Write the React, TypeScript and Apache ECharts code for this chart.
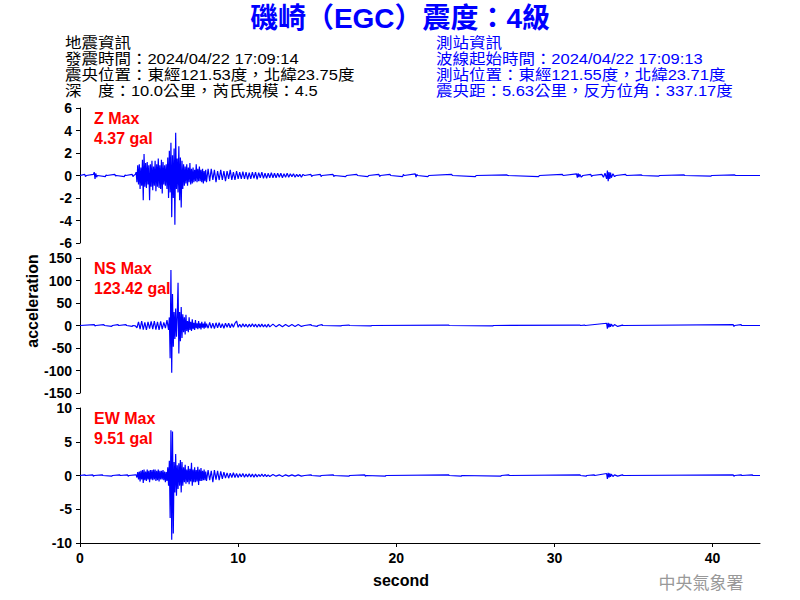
import { useEffect, useRef } from "react";
import * as echarts from "echarts";

// ---- data ----
const TITLE = "磯崎（EGC）震度：4級";
const QUAKE_INFO = [
  "地震資訊",
  "發震時間：2024/04/22 17:09:14",
  "震央位置：東經121.53度，北緯23.75度",
  "深　度：10.0公里，芮氏規模：4.5",
];
const STATION_INFO = [
  "測站資訊",
  "波線起始時間：2024/04/22 17:09:13",
  "測站位置：東經121.55度，北緯23.71度",
  "震央距：5.63公里，反方位角：337.17度",
];
const COMPONENTS = ["Z", "NS", "EW"];
const MAX_LABELS = ["4.37 gal", "123.42 gal", "9.51 gal"];
const Y_MIN = [-6, -150, -10];
const Y_MAX = [6, 150, 10];
const Y_STEP = [2, 50, 5];
const X_MAX = 43;
const X_TICKS = [0, 10, 20, 30, 40];

// [second, gal]
const zWave: [number, number][] = [
  [0, 0], [0.3, 0.1], [0.35, -0.1], [0.4, 0], [0.85, 0.1], [0.9, 0.3], [0.95, -0.3], [1.0, 0.2], [1.05, -0.15],
  [1.1, 0], [1.6, -0.1], [1.65, 0.05], [1.7, 0], [2.2, 0.1], [2.25, -0.05], [2.3, 0], [2.8, -0.1], [2.85, 0.05],
  [2.9, 0], [3.3, 0.1], [3.35, -0.1], [3.4, 0], [3.5, 0.1],
  [3.55, 0.3], [3.6, -0.6], [3.65, 0.9], [3.7, -0.8], [3.75, 1.0], [3.8, -1.2], [3.85, 0.7], [3.9, -0.9],
  [3.95, 1.4], [4.0, -2.2], [4.05, 1.9], [4.1, -1.0], [4.15, 1.1], [4.2, -1.1], [4.25, 1.2], [4.3, -0.8],
  [4.35, 0.9], [4.4, -2.2], [4.45, 1.0], [4.5, -1.0], [4.55, 1.3], [4.6, -1.3], [4.65, 0.8], [4.7, -0.9],
  [4.75, 1.3], [4.8, -1.4], [4.85, 1.0], [4.9, -1.0], [4.95, 1.5], [5.0, -1.1], [5.05, 0.9], [5.1, -1.2],
  [5.15, 1.4], [5.2, -1.6], [5.25, 1.2], [5.3, -0.8], [5.35, 0.9], [5.4, -0.9], [5.45, 1.0], [5.5, -1.2],
  [5.55, 1.6], [5.6, -2.0], [5.65, 2.2], [5.7, -1.5], [5.75, 2.9], [5.8, -3.7], [5.85, 1.8], [5.9, -2.0],
  [5.95, 2.4], [6.0, -4.37], [6.05, 3.8], [6.1, -1.2], [6.15, 1.5], [6.2, -1.5], [6.25, 2.6], [6.3, -2.2],
  [6.35, 1.6], [6.4, -2.85], [6.45, 1.3], [6.5, -1.2], [6.55, 1.0], [6.6, -0.9], [6.65, 0.8], [6.7, -0.7],
  [6.75, 1.0], [6.8, -0.9], [6.85, 0.7], [6.9, -0.6], [6.95, 1.1], [7.0, -0.8], [7.05, 0.6], [7.1, -0.7],
  [7.15, 0.7], [7.2, -0.6], [7.25, 0.5], [7.3, -0.5], [7.35, 1.0], [7.4, -0.6], [7.45, 0.6], [7.5, -0.5],
  [7.55, 0.8], [7.6, -0.5], [7.65, 0.5], [7.7, -0.6], [7.75, 0.6], [7.8, -0.7], [7.85, 0.4], [7.9, -0.5],
  [7.95, 0.5], [8.0, -0.6],
  [8.1, 0.6], [8.2, -0.5], [8.3, 0.6], [8.4, -0.4], [8.5, 0.5], [8.6, -0.6], [8.7, 0.4], [8.8, -0.4], [8.9, 0.5],
  [9.0, -0.4], [9.1, 0.4], [9.2, -0.5], [9.3, 0.4], [9.4, -0.3], [9.5, 0.5], [9.6, -0.4], [9.7, 0.3], [9.8, -0.4],
  [9.9, 0.4], [10.0, -0.3], [10.1, 0.3], [10.2, -0.3], [10.3, 0.35], [10.4, -0.3], [10.5, 0.3], [10.6, -0.35],
  [10.7, 0.25], [10.8, -0.3], [10.9, 0.3], [11.0, -0.25], [11.1, 0.3], [11.2, -0.35], [11.3, 0.25],
  [11.4, -0.2], [11.5, 0.3], [11.6, -0.25], [11.7, 0.2], [11.8, -0.25], [11.9, 0.2],
  [12.0, -0.2], [12.1, 0.25], [12.2, -0.2], [12.3, 0.2], [12.4, -0.2], [12.5, 0.2], [12.6, -0.15], [12.7, 0.2],
  [12.8, -0.2], [12.9, 0.15], [13.0, -0.15], [13.1, 0.2], [13.2, -0.15], [13.3, 0.15], [13.4, -0.1],
  [13.5, 0.15], [13.6, -0.15], [13.7, 0.1], [13.8, -0.1], [13.9, 0.1], [14.0, -0.15], [14.1, 0.1], [14.2, 0],
  [14.6, 0.1], [14.65, -0.1], [14.7, 0], [15.2, 0.1], [15.25, -0.1], [15.3, 0], [16.0, 0.1], [16.05, -0.1],
  [16.1, 0], [16.8, -0.1], [16.85, 0], [17.5, 0.1], [17.55, 0], [18.2, -0.1], [18.25, 0], [18.9, 0.1],
  [18.95, -0.1], [19.0, 0], [19.6, 0.1], [19.65, 0], [20.4, -0.1], [20.45, 0.1], [20.5, 0], [21.2, 0.15],
  [21.25, -0.15], [21.3, 0.1], [21.35, 0], [22.0, -0.1], [22.05, 0], [23.5, 0.1], [23.55, 0], [25.0, -0.1],
  [25.05, 0], [27.0, 0.05], [27.05, 0], [29.0, -0.1], [29.05, 0], [30.5, 0.1], [30.55, 0], [31.4, 0.15],
  [31.45, -0.2], [31.5, 0.2], [31.55, -0.15], [31.6, 0.1], [31.7, -0.15], [31.8, 0], [32.3, 0.1], [32.35, -0.1],
  [32.4, 0], [33.0, 0.1], [33.1, -0.15], [33.2, 0.2], [33.3, -0.3], [33.35, 0.45], [33.4, -0.5], [33.45, 0.3],
  [33.5, -0.3], [33.55, 0.25], [33.6, -0.2], [33.7, 0.15], [33.8, -0.1], [33.9, 0], [34.5, 0.1], [34.55, 0],
  [35.5, 0.05], [35.55, 0], [36.6, -0.05], [36.65, 0], [38.2, 0.05], [38.25, 0], [39.9, -0.05], [39.95, 0],
  [41.4, 0.05], [41.45, 0], [43, 0],
];

const nsWave: [number, number][] = [
  [0, 0], [0.9, 2], [0.95, -1], [1.0, 0], [1.5, 2], [1.55, 0], [2.0, -2], [2.05, 0], [2.4, 2], [2.45, 0],
  [2.9, 2], [2.95, 0], [3.3, -2], [3.35, 0], [3.5, -1],
  [3.6, -5], [3.7, 8], [3.8, -8], [3.9, 10], [4.0, -9], [4.1, 7], [4.2, -10], [4.3, 8], [4.4, -7], [4.5, 9],
  [4.6, -8], [4.7, 10], [4.8, -9], [4.9, 8], [5.0, -10], [5.1, 9], [5.2, -8], [5.3, 7], [5.4, -6], [5.5, 12],
  [5.6, -10], [5.65, 18], [5.7, -73], [5.75, 123.42], [5.8, -105], [5.85, 70], [5.9, -47], [5.95, 30], [6.0, -30],
  [6.05, 38], [6.1, -25], [6.15, 20], [6.2, 95], [6.25, -62], [6.3, 30], [6.35, -35], [6.4, 41], [6.45, -28],
  [6.5, 25], [6.55, -15], [6.6, 18], [6.65, -20], [6.7, 24], [6.75, -12], [6.8, 10], [6.85, -15], [6.9, 18],
  [6.95, -10], [7.0, 8], [7.05, -12], [7.1, 14], [7.15, -8], [7.2, 6], [7.25, -10], [7.3, 12], [7.35, -6],
  [7.4, 5], [7.45, -8], [7.5, 10], [7.55, -6], [7.6, 5], [7.65, -9], [7.7, 8], [7.75, -5], [7.8, 4],
  [7.85, -7], [7.9, 9], [7.95, -5], [8.0, 4],
  [8.1, -6], [8.2, 7], [8.3, -6], [8.4, 5], [8.5, -7], [8.6, 6], [8.7, -5], [8.8, 6], [8.9, -5], [9.0, 4],
  [9.1, -6], [9.2, 5], [9.3, -4], [9.4, 5], [9.5, -5], [9.6, 4], [9.7, -4], [9.8, 5], [9.9, 10], [10.0, -4],
  [10.1, 3], [10.2, -4], [10.3, 4], [10.4, -3], [10.5, 3], [10.6, -4], [10.7, 3], [10.8, -3], [10.9, 4],
  [11.0, -3], [11.1, 3], [11.2, -4], [11.3, 3], [11.4, -3], [11.5, 3], [11.6, -3], [11.7, 2], [11.8, -4],
  [11.9, 3], [12.0, -3], [12.2, 3], [12.4, -3], [12.6, 2], [12.8, -3], [13.0, 2], [13.2, -2], [13.4, 2],
  [13.6, -2], [13.8, 2], [14.0, -2], [14.2, 0], [14.6, 2], [14.65, 0], [15.0, -2], [15.05, 0], [15.3, 2],
  [15.35, 0], [16.5, -1], [16.55, 0], [17.0, 1], [17.05, 0], [18.4, -1], [18.45, 0], [23.3, 1], [23.35, 0],
  [26.1, -1], [26.15, 0], [31.6, 1], [31.65, 0], [31.9, 1], [31.95, 0], [33.3, 5], [33.35, -7], [33.4, 6],
  [33.45, -4], [33.5, 4], [33.55, -3], [33.6, 3], [33.7, -2], [33.8, 2], [34.0, -2], [34.3, 1], [34.35, 0],
  [41.3, 2], [41.35, -2], [41.4, 0], [41.8, 2], [41.85, 0], [43, 0],
];

const ewWave: [number, number][] = [
  [0, 0], [0.3, 0.1], [0.35, 0], [0.8, 0.1], [0.85, -0.1], [0.9, 0], [1.4, 0.1], [1.45, 0], [2.0, -0.1],
  [2.05, 0], [2.5, 0.1], [2.55, 0], [3.0, 0.1], [3.05, -0.1], [3.1, 0], [3.5, 0.1],
  [3.55, 0.1], [3.6, -0.3], [3.65, 0.5], [3.7, -0.6], [3.75, 0.6], [3.8, -0.9], [3.85, 0.7], [3.9, -0.6],
  [3.95, 0.8], [4.0, -1.1], [4.05, 0.9], [4.1, -0.7], [4.15, 0.6], [4.2, -0.8], [4.25, 0.9], [4.3, -0.6],
  [4.35, 0.7], [4.4, -1.0], [4.45, 0.8], [4.5, -0.6], [4.55, 0.8], [4.6, -0.7], [4.65, 0.9], [4.7, -0.6],
  [4.75, 0.9], [4.8, -0.8], [4.85, 0.7], [4.9, -0.7], [4.95, 0.9], [5.0, -0.9], [5.05, 0.7], [5.1, -0.6],
  [5.15, 0.7], [5.2, -0.6], [5.25, 0.8], [5.3, -0.7], [5.35, 0.6], [5.4, -1.0], [5.45, 0.5], [5.5, -0.8],
  [5.55, 1.2], [5.6, -1.5], [5.65, 2.2], [5.7, -6.3], [5.75, 6.7], [5.8, -9.51], [5.85, 6.5], [5.9, -8.6],
  [5.95, 2.0], [6.0, -2.5], [6.05, 3.2], [6.1, -3.0], [6.15, 1.5], [6.2, -2.0], [6.25, 1.8], [6.3, -1.5],
  [6.35, 2.3], [6.4, -2.5], [6.45, 2.0], [6.5, -1.5], [6.55, 1.2], [6.6, -1.0], [6.65, 1.6], [6.7, -1.2],
  [6.75, 0.9], [6.8, -1.0], [6.85, 1.4], [6.9, -1.3], [6.95, 1.0], [7.0, -0.9], [7.05, 1.9], [7.1, -1.5],
  [7.15, 0.9], [7.2, -1.0], [7.25, 1.2], [7.3, -1.0], [7.35, 0.8], [7.4, -0.9], [7.45, 1.3], [7.5, -1.4],
  [7.55, 0.9], [7.6, -0.8], [7.65, 1.1], [7.7, -0.8], [7.75, 0.7], [7.8, -0.7], [7.85, 0.9], [7.9, -0.7],
  [7.95, 0.6], [8.0, -0.8],
  [8.1, 0.8], [8.2, -0.7], [8.3, 0.7], [8.4, -1.0], [8.5, 0.8], [8.6, -0.6], [8.7, 0.7], [8.8, -0.7],
  [8.9, 0.6], [9.0, -0.5], [9.1, 0.5], [9.2, -0.4], [9.3, 0.4], [9.4, -0.4], [9.5, 0.35], [9.6, -0.3],
  [9.7, 0.4], [9.8, -0.3], [9.9, 0.3], [10.0, -0.3], [10.1, 0.25], [10.2, -0.2], [10.3, 0.3], [10.4, -0.25],
  [10.5, 0.2], [10.6, -0.2], [10.7, 0.25], [10.8, -0.2], [10.9, 0.2], [11.0, -0.25], [11.1, 0.2], [11.2, -0.2],
  [11.3, 0.15], [11.4, -0.15], [11.5, 0.2], [11.6, -0.15], [11.7, 0.15], [11.8, -0.15], [11.9, 0.1],
  [12.0, -0.15], [12.2, 0.15], [12.4, -0.1], [12.6, 0.1], [12.8, -0.15], [13.0, 0.1], [13.2, -0.1],
  [13.4, 0.1], [13.6, -0.1], [13.8, 0.1], [14.0, -0.1], [14.2, 0], [14.6, 0.1], [14.65, 0], [15.2, -0.1],
  [15.25, 0], [16.0, 0.1], [16.05, 0], [17.0, -0.1], [17.05, 0], [18.0, 0.1], [18.05, -0.1], [18.1, 0],
  [19.3, -0.1], [19.35, 0], [23.3, 0.1], [23.35, 0], [24.1, -0.1], [24.15, 0], [26.6, -0.1], [26.65, 0],
  [27.1, 0.1], [27.15, 0], [31.6, 0.1], [31.65, 0], [32.0, -0.1], [32.05, 0], [32.5, 0.1], [32.55, 0],
  [33.3, 0.3], [33.35, -0.5], [33.4, 0.4], [33.45, -0.3], [33.5, 0.3], [33.55, -0.2], [33.6, 0.2],
  [33.7, -0.15], [33.8, 0.1], [34.0, -0.1], [34.3, 0.1], [34.35, 0], [41.3, 0.1], [41.35, -0.1], [41.4, 0],
  [41.8, 0.1], [41.85, 0], [42.5, 0.1], [42.55, 0], [43, 0],
];

const WAVES = [zWave, nsWave, ewWave];

const LATIN = '"Liberation Sans", Arial, "Noto Sans CJK TC", sans-serif';
const INFO_FONT = '15px "Liberation Sans", "Noto Sans CJK TC", sans-serif';

export default function App() {
  const ref = useRef<HTMLDivElement>(null);

  useEffect(() => {
    if (!ref.current) return;
    const chart = echarts.init(ref.current, undefined, { renderer: "svg" });

    const tops = [108, 258, 408];
    const grid = tops.map((top) => ({ left: 80, top, width: 680, height: 135 }));

    const xAxis = tops.map((_, i) => {
      const bottom = i === 2;
      return {
        type: "value",
        gridIndex: i,
        min: 0,
        max: X_MAX,
        show: true,
        axisLine: { show: bottom, onZero: false, lineStyle: { color: "#000", width: 1 } },
        axisTick: {
          show: bottom,
          inside: false,
          length: 4,
          customValues: X_TICKS,
          lineStyle: { color: "#000" },
        },
        axisLabel: {
          show: bottom,
          customValues: X_TICKS,
          color: "#000",
          fontSize: 14,
          fontWeight: "bold",
          fontFamily: LATIN,
          margin: 8,
        },
        splitLine: { show: false },
      };
    });

    const yAxis = tops.map((_, i) => ({
      type: "value",
      gridIndex: i,
      min: Y_MIN[i],
      max: Y_MAX[i],
      interval: Y_STEP[i],
      axisLine: { show: true, onZero: false, lineStyle: { color: "#000", width: 1 } },
      axisTick: { show: true, inside: false, length: 4, lineStyle: { color: "#000" } },
      axisLabel: {
        color: "#000",
        fontSize: 14,
        fontWeight: "bold",
        fontFamily: LATIN,
        margin: 8,
      },
      splitLine: { show: false },
    }));

    const series = WAVES.map((w, i) => ({
      type: "line",
      xAxisIndex: i,
      yAxisIndex: i,
      data: w,
      symbol: "none",
      showSymbol: false,
      silent: true,
      lineStyle: { color: "#0000ff", width: 1.2 },
      z: 2,
    }));

    const textStyle = (text: string, fill: string, font: string, align = "left") => ({
      text,
      fill,
      font,
      textAlign: align,
      textVerticalAlign: "middle",
    });

    const graphics: any[] = [];
    graphics.push({
      type: "text",
      x: 400,
      y: 18,
      style: textStyle(TITLE, "#0000ff", 'bold 28px "Liberation Sans", "Noto Sans CJK TC", sans-serif', "center"),
    });
    QUAKE_INFO.forEach((t, k) => {
      graphics.push({
        type: "text",
        x: 65,
        y: 43 + k * 16,
        scaleX: 1.1,
        style: textStyle(t, "#000", INFO_FONT),
      });
    });
    STATION_INFO.forEach((t, k) => {
      graphics.push({
        type: "text",
        x: 436,
        y: 43 + k * 16,
        scaleX: 1.1,
        style: textStyle(t, "#0000ff", INFO_FONT),
      });
    });
    COMPONENTS.forEach((c, i) => {
      graphics.push({
        type: "text",
        x: 94,
        y: tops[i] + 10,
        style: textStyle(c + " Max", "#ff0000", 'bold 16px "Liberation Sans", Arial, sans-serif'),
      });
      graphics.push({
        type: "text",
        x: 94,
        y: tops[i] + 30,
        style: textStyle(MAX_LABELS[i], "#ff0000", 'bold 16px "Liberation Sans", Arial, sans-serif'),
      });
    });
    graphics.push({
      type: "text",
      x: 32,
      y: 301,
      rotation: Math.PI / 2,
      style: textStyle("acceleration", "#000", 'bold 16px "Liberation Sans", Arial, sans-serif', "center"),
    });
    graphics.push({
      type: "text",
      x: 401,
      y: 580,
      style: textStyle("second", "#000", 'bold 16px "Liberation Sans", Arial, sans-serif', "center"),
    });
    graphics.push({
      type: "text",
      x: 701,
      y: 581,
      style: textStyle("中央氣象署", "#999999", '17px "Noto Sans CJK TC", sans-serif', "center"),
    });

    chart.setOption({
      animation: false,
      backgroundColor: "#ffffff",
      grid,
      xAxis,
      yAxis,
      series,
      graphic: { elements: graphics },
    } as any);

    return () => chart.dispose();
  }, []);

  return <div ref={ref} style={{ width: 800, height: 600, position: "absolute", left: 0, top: 0 }} />;
}
